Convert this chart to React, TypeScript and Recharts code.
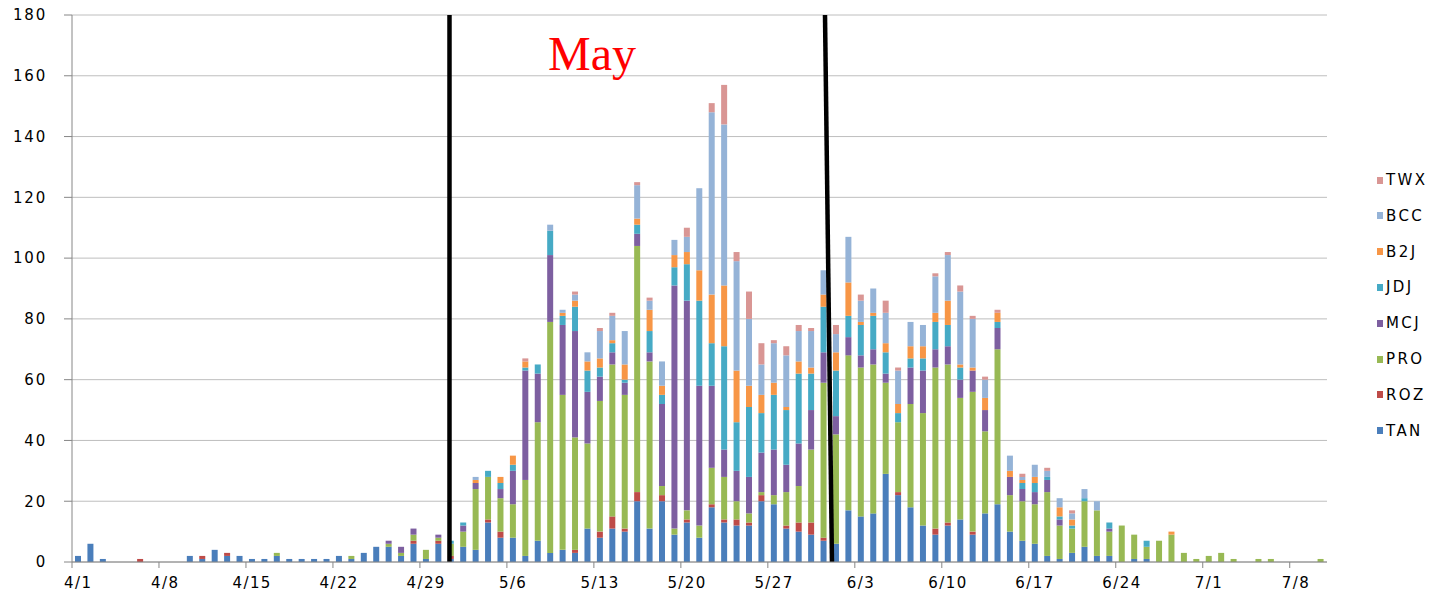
import React from "react";
import { BarChart, Bar, XAxis, YAxis, CartesianGrid, ReferenceLine } from "recharts";

const days = [
  "4/1", "4/2", "4/3", "4/4", "4/5", "4/6", "4/7", "4/8", "4/9", "4/10",
  "4/11", "4/12", "4/13", "4/14", "4/15", "4/16", "4/17", "4/18", "4/19", "4/20",
  "4/21", "4/22", "4/23", "4/24", "4/25", "4/26", "4/27", "4/28", "4/29", "4/30",
  "5/1", "5/2", "5/3", "5/4", "5/5", "5/6", "5/7", "5/8", "5/9", "5/10",
  "5/11", "5/12", "5/13", "5/14", "5/15", "5/16", "5/17", "5/18", "5/19", "5/20",
  "5/21", "5/22", "5/23", "5/24", "5/25", "5/26", "5/27", "5/28", "5/29", "5/30",
  "5/31", "6/1", "6/2", "6/3", "6/4", "6/5", "6/6", "6/7", "6/8", "6/9",
  "6/10", "6/11", "6/12", "6/13", "6/14", "6/15", "6/16", "6/17", "6/18", "6/19",
  "6/20", "6/21", "6/22", "6/23", "6/24", "6/25", "6/26", "6/27", "6/28", "6/29",
  "6/30", "7/1", "7/2", "7/3", "7/4", "7/5", "7/6", "7/7", "7/8", "7/9",
  "7/10",
];

const tan = [
  2, 6, 1, 0, 0, 0, 0, 0, 0, 2,
  1, 4, 2, 2, 1, 1, 2, 1, 1, 1,
  1, 2, 1, 3, 5, 5, 2, 6, 1, 6,
  1, 5, 4, 13, 8, 8, 2, 7, 3, 4,
  3, 11, 8, 11, 10, 20, 11, 20, 9, 13,
  8, 18, 13, 12, 12, 20, 19, 11, 10, 9,
  7, 6, 17, 15, 16, 29, 22, 18, 12, 9,
  12, 14, 9, 16, 19, 10, 7, 6, 2, 1,
  3, 5, 2, 2, 0, 1, 1, 0, 0, 0,
  0, 0, 0, 0, 0, 0, 0, 0, 0, 0,
  0,
];
const roz = [
  0, 0, 0, 0, 0, 1, 0, 0, 0, 0,
  1, 0, 1, 0, 0, 0, 0, 0, 0, 0,
  0, 0, 0, 0, 0, 0, 0, 1, 0, 1,
  1, 0, 0, 1, 2, 0, 0, 0, 0, 0,
  1, 0, 2, 4, 1, 3, 0, 2, 0, 1,
  0, 1, 1, 2, 1, 2, 0, 1, 3, 4,
  1, 0, 0, 0, 0, 0, 1, 0, 0, 2,
  1, 0, 1, 0, 0, 0, 0, 0, 0, 0,
  0, 0, 0, 0, 0, 0, 0, 0, 0, 0,
  0, 0, 0, 0, 0, 0, 0, 0, 0, 0,
  0,
];
const pro = [
  0, 0, 0, 0, 0, 0, 0, 0, 0, 0,
  0, 0, 0, 0, 0, 0, 1, 0, 0, 0,
  0, 0, 1, 0, 0, 1, 1, 2, 3, 1,
  4, 5, 20, 14, 11, 11, 25, 39, 76, 51,
  37, 28, 43, 50, 44, 81, 55, 3, 2, 3,
  4, 12, 14, 6, 3, 1, 3, 11, 12, 24,
  51, 36, 51, 49, 49, 30, 23, 34, 37, 53,
  52, 40, 46, 27, 51, 12, 13, 13, 21, 11,
  8, 15, 15, 8, 12, 8, 4, 7, 9, 3,
  1, 2, 3, 1, 0, 1, 1, 0, 0, 0,
  1,
];
const mcj = [
  0, 0, 0, 0, 0, 0, 0, 0, 0, 0,
  0, 0, 0, 0, 0, 0, 0, 0, 0, 0,
  0, 0, 0, 0, 0, 1, 2, 2, 0, 1,
  0, 2, 2, 0, 3, 11, 36, 16, 22, 23,
  35, 17, 8, 4, 4, 4, 3, 27, 80, 69,
  46, 27, 9, 10, 12, 13, 15, 9, 14, 13,
  10, 6, 6, 4, 5, 3, 0, 12, 14, 6,
  6, 6, 7, 7, 7, 6, 4, 4, 4, 2,
  0, 0, 0, 1, 0, 0, 0, 0, 0, 0,
  0, 0, 0, 0, 0, 0, 0, 0, 0, 0,
  0,
];
const jdj = [
  0, 0, 0, 0, 0, 0, 0, 0, 0, 0,
  0, 0, 0, 0, 0, 0, 0, 0, 0, 0,
  0, 0, 0, 0, 0, 0, 0, 0, 0, 0,
  1, 1, 0, 2, 2, 2, 1, 3, 8, 3,
  8, 7, 3, 3, 1, 3, 7, 3, 6, 12,
  28, 14, 34, 16, 23, 13, 18, 18, 23, 12,
  15, 15, 7, 10, 11, 7, 3, 3, 4, 9,
  7, 4, 0, 0, 2, 0, 2, 3, 1, 1,
  1, 1, 0, 2, 0, 0, 2, 0, 0, 0,
  0, 0, 0, 0, 0, 0, 0, 0, 0, 0,
  0,
];
const b2j = [
  0, 0, 0, 0, 0, 0, 0, 0, 0, 0,
  0, 0, 0, 0, 0, 0, 0, 0, 0, 0,
  0, 0, 0, 0, 0, 0, 0, 0, 0, 0,
  0, 0, 1, 0, 2, 3, 2, 0, 0, 1,
  2, 3, 3, 1, 5, 2, 7, 3, 4, 4,
  10, 16, 20, 17, 7, 6, 4, 1, 4, 2,
  4, 6, 11, 1, 1, 3, 3, 4, 4, 3,
  8, 1, 1, 4, 3, 2, 1, 2, 0, 3,
  2, 0, 0, 0, 0, 0, 0, 0, 1, 0,
  0, 0, 0, 0, 0, 0, 0, 0, 0, 0,
  0,
];
const bcc = [
  0, 0, 0, 0, 0, 0, 0, 0, 0, 0,
  0, 0, 0, 0, 0, 0, 0, 0, 0, 0,
  0, 0, 0, 0, 0, 0, 0, 0, 0, 0,
  0, 0, 1, 0, 0, 0, 0, 0, 2, 1,
  2, 3, 9, 8, 11, 11, 3, 8, 5, 5,
  27, 60, 53, 36, 22, 10, 13, 17, 10, 12,
  8, 6, 15, 7, 8, 10, 11, 8, 7, 12,
  15, 24, 16, 6, 0, 5, 1, 4, 2, 3,
  2, 3, 3, 0, 0, 0, 0, 0, 0, 0,
  0, 0, 0, 0, 0, 0, 0, 0, 0, 0,
  0,
];
const twx = [
  0, 0, 0, 0, 0, 0, 0, 0, 0, 0,
  0, 0, 0, 0, 0, 0, 0, 0, 0, 0,
  0, 0, 0, 0, 0, 0, 0, 0, 0, 0,
  0, 0, 0, 0, 0, 0, 1, 0, 0, 0,
  1, 0, 1, 1, 0, 1, 1, 0, 0, 3,
  0, 3, 13, 3, 9, 7, 1, 3, 2, 1,
  0, 3, 0, 2, 0, 4, 1, 0, 0, 1,
  1, 2, 1, 1, 1, 0, 1, 0, 1, 0,
  1, 0, 0, 0, 0, 0, 0, 0, 0, 0,
  0, 0, 0, 0, 0, 0, 0, 0, 0, 0,
  0,
];

const series = [
  { key: "TAN", values: tan, color: "#4A7EBB" },
  { key: "ROZ", values: roz, color: "#BE4B48" },
  { key: "PRO", values: pro, color: "#98B954" },
  { key: "MCJ", values: mcj, color: "#7D5FA0" },
  { key: "JDJ", values: jdj, color: "#46AAC5" },
  { key: "B2J", values: b2j, color: "#F79646" },
  { key: "BCC", values: bcc, color: "#95B3D7" },
  { key: "TWX", values: twx, color: "#D99694" },
];

const yTicks = [0, 20, 40, 60, 80, 100, 120, 140, 160, 180];
const xTicks = [0, 7, 14, 21, 28, 35, 42, 49, 56, 63, 70, 77, 84, 91, 98];

// the two hand-drawn black lines, in day-index units (top x, bottom x)
const lineMay1 = [29.88, 29.88];
const lineJun1 = [60.1, 60.66];

const W = 1438;
const H = 601;
const margin = { top: 15, right: 111, bottom: 0, left: 0 };
const yAxisW = 72;
const xAxisH = 39;
const plotW = W - margin.left - margin.right - yAxisW;
const halfBand = plotW / days.length / 2;
const font = "'DejaVu Sans', sans-serif";

const rows = days.map((d, i) => {
  const r: Record<string, number | string> = { i, day: d };
  series.forEach((s) => { r[s.key] = s.values[i]; });
  return r;
});

function DayTick(props: { x?: number; y?: number; payload?: { value: number } }) {
  const { x = 0, y = 0, payload } = props;
  if (!payload) return null;
  return (
    <g>
      <line x1={x - halfBand} x2={x - halfBand} y1={y} y2={y + 6} stroke="#868686" />
      <text x={x} y={y + 26} textAnchor="middle" fontSize={15} fontFamily={font} letterSpacing={1.4} fill="#000">
        {days[payload.value]}
      </text>
    </g>
  );
}

export default function App() {
  return (
    <div style={{ position: "absolute", left: 0, top: 0, width: W, height: H, overflow: "hidden", background: "#fff", fontFamily: font }}>
      <BarChart width={W} height={H} data={rows} margin={margin}>
        <CartesianGrid vertical={false} stroke="#BEBEBE" />
        <XAxis
          type="number"
          dataKey="i"
          domain={[-0.5, days.length - 0.5]}
          allowDataOverflow
          ticks={xTicks}
          interval={0}
          height={xAxisH}
          tickSize={0}
          tickMargin={0}
          tickLine={false}
          stroke="#868686"
          tick={<DayTick />}
        />
        <YAxis
          domain={[0, 180]}
          ticks={yTicks}
          interval={0}
          width={yAxisW}
          tickSize={8}
          tickMargin={17}
          stroke="#868686"
          tick={{ fontSize: 15, fill: "#000", fontFamily: font, letterSpacing: 1.8 }}
        />
        {series.map((s) => (
          <Bar key={s.key} dataKey={s.key} stackId="a" fill={s.color} barSize={6} isAnimationActive={false} />
        ))}
        <ReferenceLine
          segment={[{ x: lineMay1[0], y: 180 }, { x: lineMay1[1], y: 0 }]}
          stroke="#000"
          strokeWidth={4.5}
          ifOverflow="visible"
        />
        <ReferenceLine
          segment={[{ x: lineJun1[0], y: 180 }, { x: lineJun1[1], y: 0 }]}
          stroke="#000"
          strokeWidth={4.5}
          ifOverflow="visible"
        />
      </BarChart>

      <div style={{ position: "absolute", left: 548, top: 30, fontFamily: "'Liberation Serif', serif", fontSize: 48, lineHeight: "48px", color: "#FF0000" }}>
        May
      </div>

      <div style={{ position: "absolute", left: 1377, top: 170 }}>
        {[...series].reverse().map((s, k) => (
          <div key={s.key} style={{ position: "absolute", top: k * 35.8, left: 0, display: "flex", alignItems: "center", height: 20, whiteSpace: "nowrap" }}>
            <span style={{ display: "inline-block", width: 6, height: 7, background: s.color }} />
            <span style={{ marginLeft: 3, fontSize: 15, letterSpacing: 2.4, color: "#000" }}>{s.key}</span>
          </div>
        ))}
      </div>
    </div>
  );
}
